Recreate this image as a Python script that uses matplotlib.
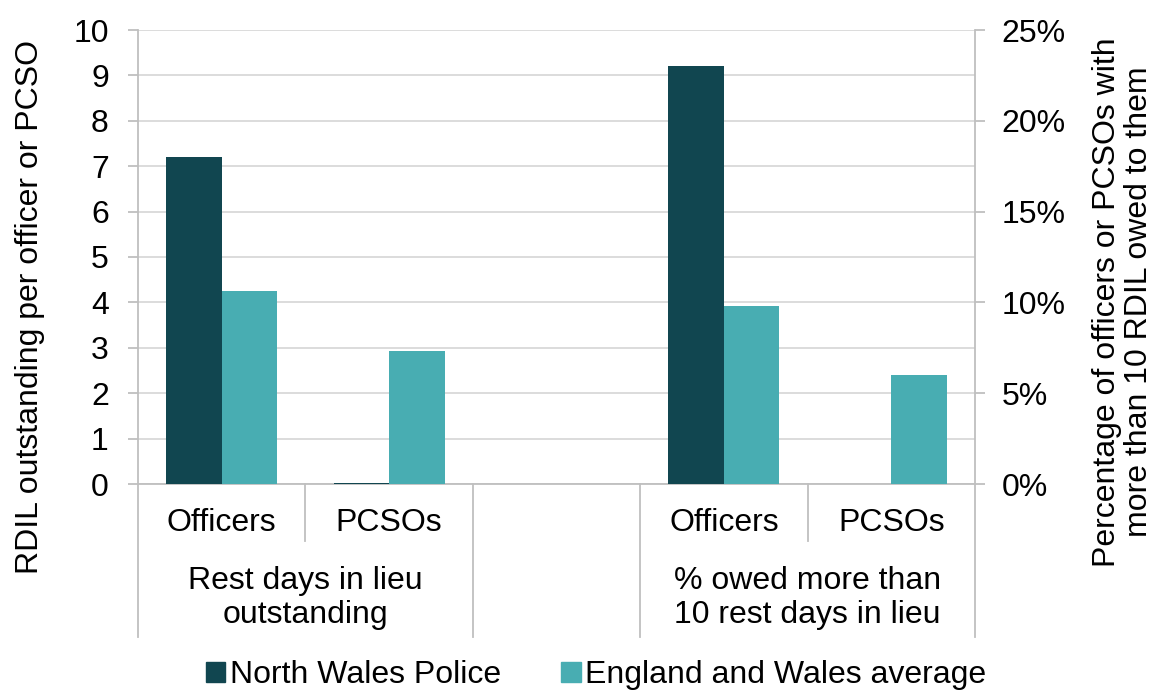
import numpy as np
import matplotlib.pyplot as plt
from matplotlib.patches import Patch
from matplotlib.ticker import PercentFormatter

plt.rcParams['font.family'] = ['Liberation Sans', 'DejaVu Sans']

# Data
series = ['North Wales Police', 'England and Wales average']
cats = ['Officers', 'PCSOs']
groups = ['Rest days in lieu\noutstanding', '% owed more than\n10 rest days in lieu']
rdil_nwp = [7.2, 0.02]      # left axis, days
rdil_ew = [4.25, 2.94]
pct_nwp = [0.23, 0.0]       # right axis, share
pct_ew = [0.098, 0.06]

dark = '#114650'
teal = '#48adb2'
grey = '#bfbfbf'
fs = 23

W, H = 1158, 691
fig = plt.figure(figsize=(W / 100, H / 100), dpi=100)
ax = fig.add_axes([138 / W, 1 - 484 / H, (975 - 138) / W, (484 - 30) / H])
ax2 = ax.twinx()

w = 0.332
x1 = np.array([0, 1])
x2 = np.array([3, 4])
ax.bar(x1 - w / 2, rdil_nwp, w, color=dark, zorder=3)
ax.bar(x1 + w / 2, rdil_ew, w, color=teal, zorder=3)
ax2.bar(x2 - w / 2, pct_nwp, w, color=dark, zorder=3)
ax2.bar(x2 + w / 2, pct_ew, w, color=teal, zorder=3)

ax.set_xlim(-0.5, 4.5)
ax.set_ylim(0, 10)
ax2.set_ylim(0, 0.25)
ax.set_yticks(range(11))
ax2.set_yticks(np.arange(0, 0.26, 0.05))
ax2.yaxis.set_major_formatter(PercentFormatter(1, decimals=0))
ax.yaxis.grid(True, color='#d9d9d9', linewidth=1.3, zorder=0)
ax.set_axisbelow(True)

for a in (ax, ax2):
    for s in a.spines.values():
        s.set_visible(False)
    a.set_xticks([])
ax.spines['left'].set_visible(True)
ax.spines['left'].set_color(grey)
ax.spines['left'].set_linewidth(1.3)
ax2.spines['right'].set_visible(True)
ax2.spines['right'].set_color(grey)
ax2.spines['right'].set_linewidth(1.3)
ax.spines['bottom'].set_visible(True)
ax.spines['bottom'].set_color(grey)
ax.spines['bottom'].set_linewidth(1.3)
ax.tick_params(axis='y', length=7, width=1.3, color=grey, labelsize=fs, pad=14)
ax2.tick_params(axis='y', length=7, width=1.3, color=grey, labelsize=fs, pad=12)

# category axis separators and labels
tr = ax.get_xaxis_transform()
for b in [-0.5, 1.5, 2.5, 4.5]:
    ax.plot([b, b], [0, -0.337], transform=tr, color=grey, lw=1.3, clip_on=False)
for b in [0.5, 3.5]:
    ax.plot([b, b], [0, -0.126], transform=tr, color=grey, lw=1.3, clip_on=False)
for xs in (x1, x2):
    for xi, c in zip(xs, cats):
        ax.text(xi, -0.086, c, transform=tr, ha='center', va='center', fontsize=fs)
ax.text(0.5, -0.251, groups[0], transform=tr, ha='center', va='center', fontsize=fs, linespacing=1.15)
ax.text(3.5, -0.251, groups[1], transform=tr, ha='center', va='center', fontsize=fs, linespacing=1.15)

fig.text(30 / W, 1 - 307 / H, 'RDIL outstanding per officer or PCSO', rotation=90,
         ha='center', va='center', fontsize=fs)
fig.text(1123 / W, 1 - 302 / H, 'Percentage of officers or PCSOs with\nmore than 10 RDIL owed to them',
         rotation=90, ha='center', va='center', fontsize=fs, linespacing=1.1)

handles = [Patch(color=dark), Patch(color=teal)]
fig.legend(handles, series, loc='center', bbox_to_anchor=(596 / W, 1 - 675 / H), ncol=2,
           frameon=False, fontsize=fs, handlelength=0.6, handleheight=0.6,
           handletextpad=0.15, columnspacing=1.9, borderpad=0)

fig.savefig('out.png', dpi=100)
